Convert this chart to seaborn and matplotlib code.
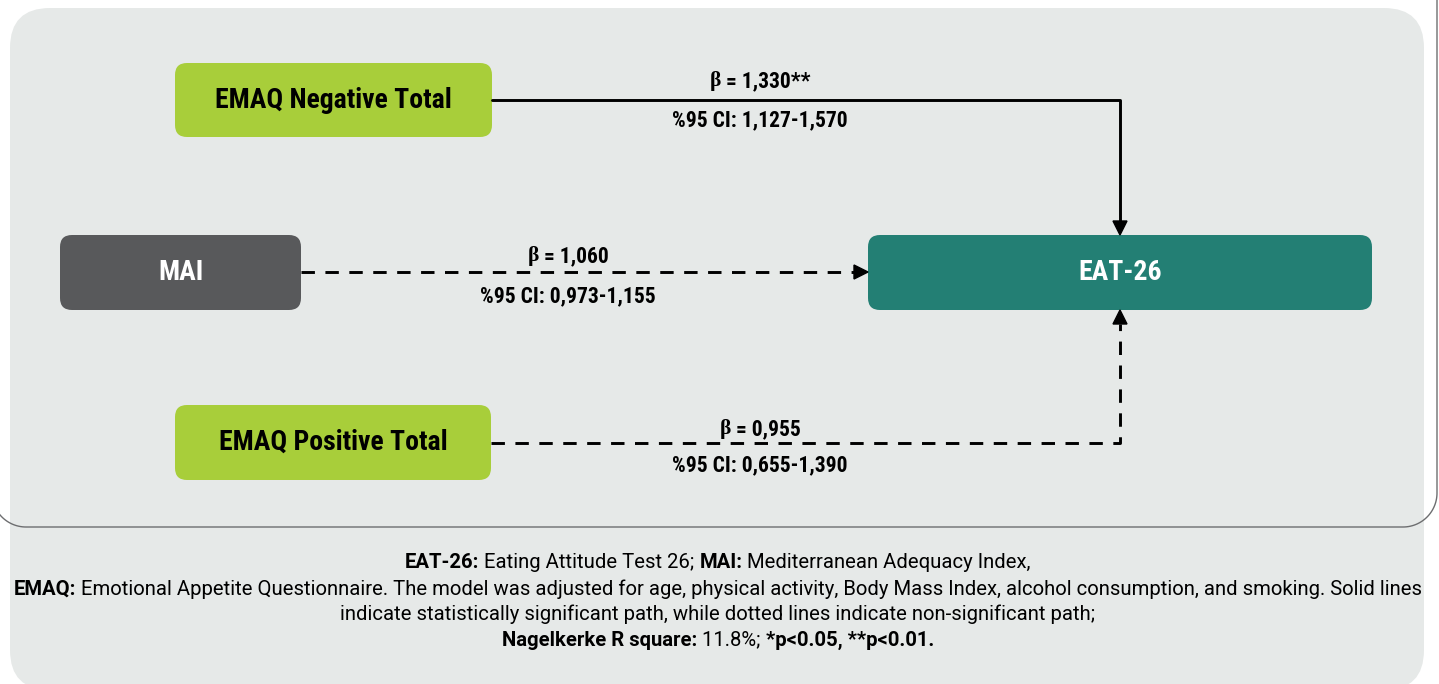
import matplotlib
matplotlib.use("Agg")
import numpy as np
import matplotlib.pyplot as plt
from matplotlib.patches import FancyBboxPatch, Polygon
from matplotlib import font_manager
import seaborn as sns

# Données du modèle (coefficients de régression)
predictors = ["EMAQ Negative Total", "MAI", "EMAQ Positive Total"]
outcome = "EAT-26"
betas = ["1,330", "1,060", "0,955"]
sig_marks = ["**", "", ""]
ci_low = ["1,127", "0,973", "0,655"]
ci_high = ["1,570", "1,155", "1,390"]
significant = [True, False, False]

caption_lines = [
    [("EAT-26:", True), (" Eating Attitude Test 26; ", False), ("MAI:", True),
     (" Mediterranean Adequacy Index,", False)],
    [("EMAQ:", True), (" Emotional Appetite Questionnaire. The model was adjusted for age, physical activity, "
                       "Body Mass Index, alcohol consumption, and smoking. Solid lines", False)],
    [("indicate statistically significant path, while dotted lines indicate non-significant path;", False)],
    [("Nagelkerke R square:", True), (" 11.8%; ", False), ("*p<0.05, **p<0.01.", True)],
]

# Couleurs
GREEN = "#A8CE3A"
DARK = "#58595B"
TEAL = "#237F74"
PANEL = "#E6E9E8"

sns.set_theme(style="white")
names = {f.name for f in font_manager.fontManager.ttflist}
candidates = ["Roboto Condensed", "Liberation Sans Narrow", "Noto Sans Condensed",
              "Open Sans Condensed", "Roboto"]
FONT = next(c for c in candidates if c in names)
FAM = [FONT, "DejaVu Sans"]
CAP_FAM = ["Roboto", "DejaVu Sans"]
plt.rcParams["font.family"] = FAM

W, H = 1439, 684
fig = plt.figure(figsize=(W / 100, H / 100), dpi=100)
ax = fig.add_axes([0, 0, 1, 1])
ax.set_xlim(0, W)
ax.set_ylim(H, 0)
ax.axis("off")
renderer = fig.canvas.get_renderer()


def rbox(x0, y0, x1, y1, r, **kw):
    p = FancyBboxPatch((x0, y0), x1 - x0, y1 - y0,
                       boxstyle=f"round,pad=0,rounding_size={r}", **kw)
    ax.add_patch(p)
    return p


def text_w(s, size, bold, family):
    t = ax.text(0, 0, s, fontsize=size, fontweight="bold" if bold else "normal", family=family)
    w = t.get_window_extent(renderer).width
    t.remove()
    return w


def seg_width(s, size, bold, family):
    # mesure avec des 'x' autour pour garder les espaces
    return text_w("x" + s + "x", size, bold, family) - text_w("xx", size, bold, family)


def line_width(parts, size, fam):
    return sum(seg_width(p[0], size, p[1], p[2] if len(p) > 2 else fam) for p in parts)


def rich_line(cx, y, parts, size, fam=FAM, color="black"):
    widths = [seg_width(p[0], size, p[1], p[2] if len(p) > 2 else fam) for p in parts]
    x = cx - sum(widths) / 2
    for p, w in zip(parts, widths):
        ax.text(x, y, p[0], fontsize=size, fontweight="bold" if p[1] else "normal",
                family=p[2] if len(p) > 2 else fam, va="center", ha="left", color=color)
        x += w


def arrow_head(tip, direction, size=14):
    x, y = tip
    dx, dy = direction
    px, py = -dy, dx
    pts = [(x, y),
           (x - dx * size + px * size / 2, y - dy * size + py * size / 2),
           (x - dx * size - px * size / 2, y - dy * size - py * size / 2)]
    ax.add_patch(Polygon(pts, closed=True, color="black", zorder=5))


# Fond
rbox(10, 8, 1424, 690, 40, facecolor=PANEL, edgecolor="none", zorder=0)

# contour du cadre supérieur : seul le bas et le bord droit sont visibles
r, left, right, bottom = 34, -8, 1437, 527
t1 = np.linspace(np.pi, np.pi / 2, 30)
t2 = np.linspace(np.pi / 2, 0, 30)
ox = np.concatenate([left + r + r * np.cos(t1), right - r + r * np.cos(t2), [right]])
oy = np.concatenate([bottom - r + r * np.sin(t1), bottom - r + r * np.sin(t2), [-5]])
ax.plot(ox, oy, color="#6D6E70", lw=1.0, zorder=1)

# Boîtes
boxes = {
    predictors[0]: (175, 63, 492, 137, GREEN, "black"),
    predictors[1]: (60, 235, 301, 310, DARK, "white"),
    predictors[2]: (175, 405, 491, 480, GREEN, "black"),
    outcome: (868, 235, 1372, 310, TEAL, "white"),
}
for name, (x0, y0, x1, y1, fc, tc) in boxes.items():
    rbox(x0, y0, x1, y1, 12, facecolor=fc, edgecolor="none", zorder=2)
    ax.text((x0 + x1) / 2, (y0 + y1) / 2, name, fontsize=20, fontweight="bold",
            color=tc, ha="center", va="center", zorder=3)

# Chemins
paths = [
    ([492, 1120, 1120], [100, 100, 221], (1120, 235), (0, 1)),
    ([301, 854], [272, 272], (868, 272), (1, 0)),
    ([491, 1120, 1120], [443, 443, 324], (1120, 310), (0, -1)),
]
label_pos = [(760, 81, 120), (568, 256, 296), (760, 429, 465)]

for i, (xs, ys, tip, d) in enumerate(paths):
    ls = "-" if significant[i] else (0, (4.6, 3.6))
    sns.lineplot(x=xs, y=ys, sort=False, ax=ax, color="black", lw=2.1,
                 linestyle=ls, estimator=None)
    arrow_head(tip, d)
    cx, yb, yc = label_pos[i]
    rich_line(cx, yb, [("β", True, ["Liberation Serif"]), (" = " + betas[i] + sig_marks[i], True)], 15.5)
    rich_line(cx, yc, [(f"%95 CI: {ci_low[i]}-{ci_high[i]}", True)], 15.5)

# Légende sous le schéma : taille ajustée pour que la 2e ligne tienne dans le cadre
cap_size = 12 * 1404 / line_width(caption_lines[1], 12, CAP_FAM)
for line, y in zip(caption_lines, [562, 589, 614, 640]):
    rich_line(718, y, line, cap_size, fam=CAP_FAM)

fig.savefig("out.png", dpi=100)
